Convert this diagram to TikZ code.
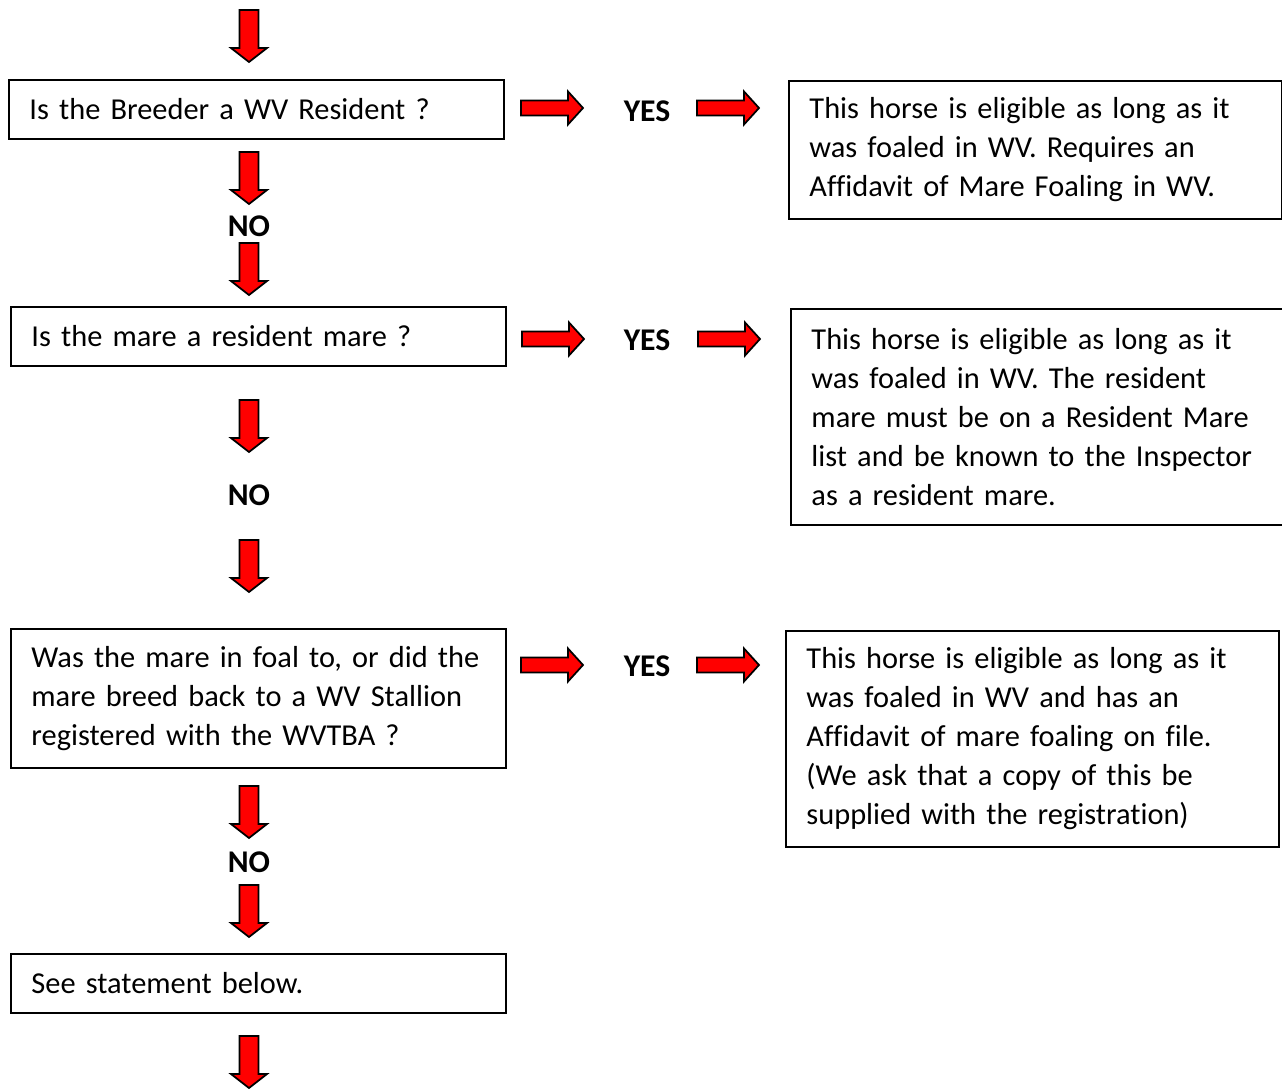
\documentclass[tikz,border=0pt]{standalone}
\usepackage{fontspec}
\setmainfont{Carlito}[Ligatures=NoCommon]
\newcommand\dnarrow[2]{\filldraw[blockarr] (#1-9.5,#2) -- (#1+9.5,#2) -- (#1+9.5,#2+38) -- (#1+18,#2+38) -- (#1,#2+52) -- (#1-18,#2+38) -- (#1-9.5,#2+38) -- cycle;}
\newcommand\rtarrow[2]{\filldraw[blockarr] (#1,#2-7.5) -- (#1+47,#2-7.5) -- (#1+47,#2-16.5) -- (#1+62,#2) -- (#1+47,#2+16.5) -- (#1+47,#2+7.5) -- (#1,#2+7.5) -- cycle;}
\begin{document}
\begin{tikzpicture}[x=0.02cm,y=-0.02cm]
\tikzset{qbox/.style={draw,line width=1.1pt,anchor=north west,align=left,inner xsep=0.4cm,text width=9.08cm,minimum width=9.9cm,font=\fontsize{17.3}{22.2}\selectfont},
  abox/.style={qbox,text width=9.04cm,minimum width=9.86cm},
  blockarr/.style={fill=red,draw=black,line width=1pt,line join=miter},
  lbl/.style={font=\bfseries\fontsize{18}{20}\selectfont}}
\useasboundingbox (0,0) rectangle (1282,1089);
% questions
\node[qbox,minimum height=1.18cm] (breeder) at (8,79) {Is the Breeder a WV Resident ?};
\node[qbox,minimum height=1.18cm] (mare) at (10,306) {Is the mare a resident mare ?};
\node[qbox,minimum height=2.78cm] (stallion) at (10,628) {Was the mare in foal to, or did the\\mare breed back to a WV Stallion\\registered with the WVTBA ?};
\node[qbox,minimum height=1.18cm] (below) at (10,953) {See statement below.};
% answers
\node[abox,minimum height=2.76cm] (elig1) at (788,80) {This horse is eligible as long as it\\was foaled in WV. Requires an\\Affidavit of Mare Foaling in WV.};
\node[abox,minimum height=4.32cm] (elig2) at (790,308) {This horse is eligible as long as it\\was foaled in WV. The resident\\mare must be on a Resident Mare\\list and be known to the Inspector\\as a resident mare.};
\node[abox,minimum height=4.32cm] (elig3) at (785,630) {This horse is eligible as long as it\\was foaled in WV and has an\\Affidavit of mare foaling on file.\\(We ask that a copy of this be\\supplied with the registration)};
% labels
\node[lbl] (yes1) at (647,111) {YES};\node[lbl] (yes2) at (647,340) {YES};\node[lbl] (yes3) at (647,666) {YES};
\node[lbl] (no1) at (249,226) {NO};\node[lbl] (no2) at (249,495) {NO};\node[lbl] (no3) at (249,862) {NO};
% arrows
\dnarrow{249}{10}\dnarrow{249}{152}\dnarrow{249}{243}\dnarrow{249}{400}\dnarrow{249}{540}
\dnarrow{249}{786}\dnarrow{249}{885}\dnarrow{249}{1036}
\rtarrow{521}{108}\rtarrow{697}{108}
\rtarrow{522}{339}\rtarrow{698}{339}
\rtarrow{521}{665}\rtarrow{697}{665}
\end{tikzpicture}
\end{document}
